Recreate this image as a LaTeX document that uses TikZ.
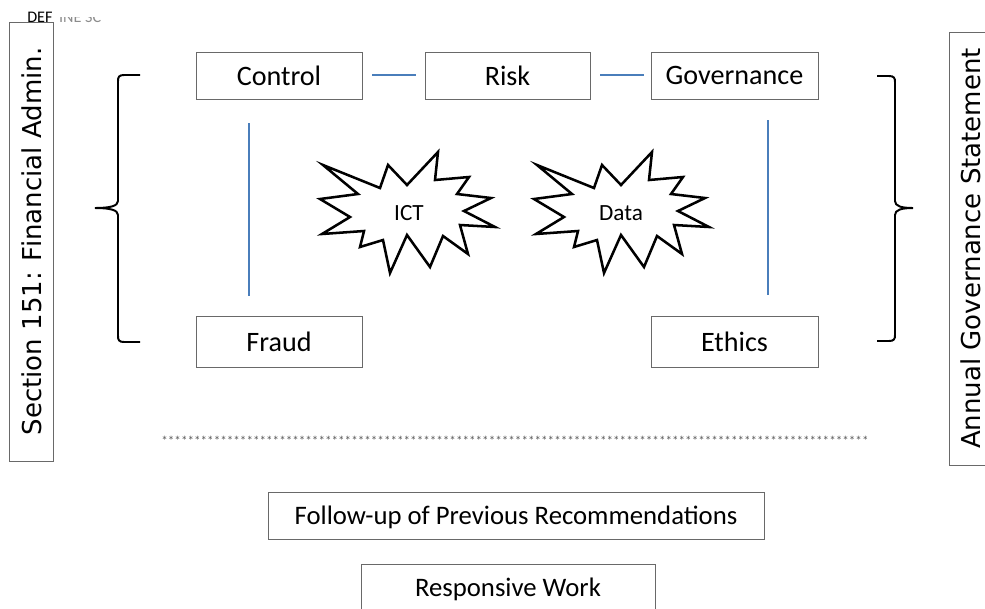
\documentclass[tikz,border=0pt]{standalone}
\usepackage{fontspec}
\setmainfont{Carlito}
\newfontfamily\sidefont{DejaVu Sans}
\usetikzlibrary{positioning}
\definecolor{linkblue}{RGB}{74, 126, 187}
\definecolor{boxgray}{RGB}{105, 105, 105}
\newcommand\starten{**********}

\tikzset{
  topicbox/.style={draw=boxgray, line width=0.6pt, minimum width=4.15cm, minimum height=1.175cm, inner sep=0pt, font=\fontsize{20}{24}\selectfont},
  sidebox/.style={draw=boxgray, line width=0.6pt, rotate=90, minimum height=1.1cm, inner sep=0pt, font=\sidefont\fontsize{18.5}{22}\selectfont},
  linkline/.style={draw=linkblue, line width=1.4pt},
  bracket/.style={draw, line width=1.4pt},
  burst/.pic={
    \draw[line width=1.8pt, line join=miter] (-85,-47) -- (-28,-24) -- (-20,-47) -- (-1,-27) -- (30,-60) -- (27,-32)
      -- (61,-35) -- (49,-18) -- (83,-14) -- (56,-1) -- (87,15) -- (52,13) -- (60,42) -- (35,24) -- (22,55)
      -- (-1,23) -- (-18,61) -- (-25,28) -- (-48,35) -- (-44,19) -- (-86,22) -- (-58,5) -- (-88,-13) -- (-50,-18) -- cycle;
  }
}

\begin{document}
\begin{tikzpicture}[x=0.025cm, y=-0.025cm]
  \clip (0,0) rectangle (985,608);

  % Heading left over at the top
  \node[anchor=base west, inner sep=0pt, font=\fontsize{11.5}{13}\selectfont] (def) at (27,22) {DEF};
  \begin{scope}
    \clip (50,17) rectangle (130,30);
    \node[anchor=base west, inner sep=0pt, font=\fontsize{11.5}{13}\selectfont, text=black!45] (defrest) at ([xshift=0.15cm]def.base east) {INE SC};
  \end{scope}

  % Side boxes
  \node[sidebox, minimum width=10.975cm] (section) at (31.5,241.5) {Section 151: Financial Admin.};
  \node[sidebox, minimum width=10.825cm] (annual) at (971,248.5) {Annual Governance Statement};

  % Top row
  \node[topicbox] (control) at (279,75.5) {Control};
  \node[topicbox, minimum width=4.125cm] (risk) at (507.5,75.5) {Risk};
  \node[topicbox, minimum width=4.175cm] (governance) at (734.5,75.5) {Governance};

  % Bottom row
  \node[topicbox, minimum height=1.275cm] (fraud) at (279,341.5) {Fraud};
  \node[topicbox, minimum width=4.175cm, minimum height=1.275cm] (ethics) at (734.5,341.5) {Ethics};

  % Links
  \draw[linkline] ([xshift=0.25cm, yshift=0.0125cm]control.east) -- ([xshift=-0.225cm, yshift=0.0125cm]risk.west);
  \draw[linkline] ([xshift=0.25cm, yshift=0.0125cm]risk.east) -- ([xshift=-0.175cm, yshift=0.0125cm]governance.west);
  \draw[linkline] ([xshift=-0.75cm, yshift=-0.6cm]control.south) -- ([xshift=-0.75cm, yshift=0.5cm]fraud.north);
  \draw[linkline] ([xshift=0.84cm, yshift=-0.525cm]governance.south) -- ([xshift=0.84cm, yshift=0.525cm]ethics.north);

  % Bursts
  \pic at (408,212) {burst};
  \node[font=\fontsize{16.5}{20}\selectfont] (ict) at (409,213) {ICT};
  \pic at (622,212) {burst};
  \node[font=\fontsize{16.5}{20}\selectfont] (data) at (621,213) {Data};

  % Braces
  \draw[bracket] (140,75) -- (124,75) .. controls (119,75) and (118,77) .. (118,81) -- (118,201)
    .. controls (118,206) and (110,208) .. (95,208) .. controls (110,208) and (118,210) .. (118,215)
    -- (118,336) .. controls (118,340) and (119,342) .. (124,342) -- (140,342);
  \draw[bracket] (877,76) -- (889,76) .. controls (894,76) and (895,78) .. (895,82) -- (895,201)
    .. controls (895,206) and (901,208) .. (913,208) .. controls (901,208) and (895,210) .. (895,215)
    -- (895,335) .. controls (895,339) and (894,341) .. (889,341) -- (877,341);

  % Divider
  \node[inner sep=0pt, text=black!65, font=\fontsize{9.35}{11}\selectfont] (divider) at (515,441)
    {\starten\starten\starten\starten\starten\starten\starten\starten\starten\starten********};

  % Lower boxes
  \node[topicbox, minimum width=12.4cm, text depth=0pt, font=\fontsize{19}{23}\selectfont] (followup) at (516,515.5) {Follow-up of Previous Recommendations};
  \node[topicbox, minimum width=7.35cm, text depth=0pt, font=\fontsize{19}{23}\selectfont] (responsive) at (508,587.5) {Responsive Work};
\end{tikzpicture}
\end{document}
